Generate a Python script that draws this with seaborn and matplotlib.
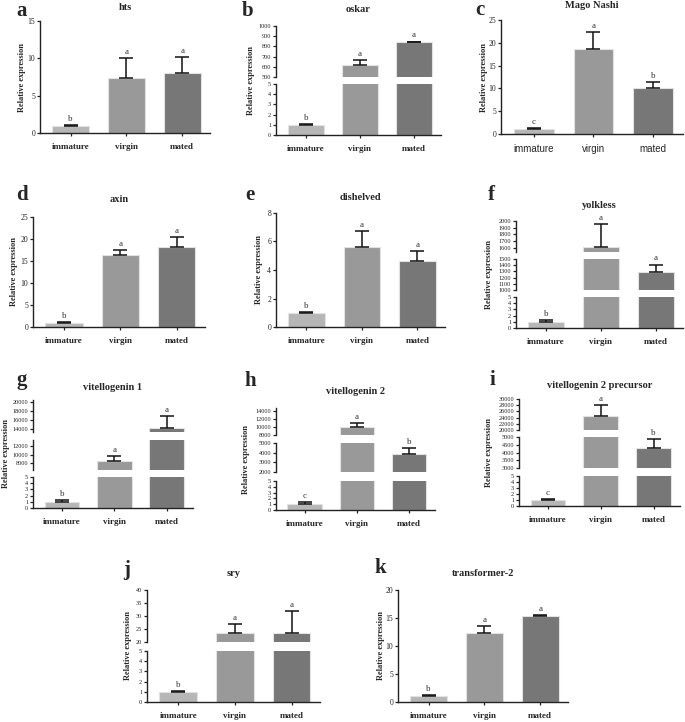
import numpy as np
import pandas as pd
import matplotlib.pyplot as plt
import seaborn as sns

sns.set_style("ticks")
plt.rcParams['font.family'] = ['Liberation Serif', 'DejaVu Serif']

W, H = 685, 722

stages = ["immature", "virgin", "mated"]
stage_colors = ["#b6b6b6", "#999999", "#777777"]

# mean relative expression, upper error, significance letters
hts_mean = [1.0, 7.4, 8.1]
hts_err = [0.12, 2.6, 2.1]
hts_sig = ["b", "a", "a"]

oskar_mean = [1.0, 615, 840]
oskar_err = [0.07, 50, 8]
oskar_sig = ["b", "a", "a"]

mago_mean = [1.0, 18.6, 10.1]
mago_err = [0.3, 3.7, 1.2]
mago_sig = ["c", "a", "b"]

axin_mean = [1.0, 16.4, 18.1]
axin_err = [0.2, 1.1, 2.3]
axin_sig = ["b", "a", "a"]

dsh_mean = [1.0, 5.6, 4.65]
dsh_err = [0.07, 1.15, 0.65]
dsh_sig = ["b", "a", "a"]

yl_mean = [1.0, 1620, 1290]
yl_err = [0.3, 340, 120]
yl_sig = ["b", "a", "a"]

vg1_mean = [1.0, 8600, 14200]
vg1_err = [0.3, 1100, 2600]
vg1_sig = ["b", "a", "a"]

vg2_mean = [1.0, 9900, 3900]
vg2_err = [0.3, 1200, 600]
vg2_sig = ["c", "a", "b"]

vg2p_mean = [1.0, 24600, 4300]
vg2p_err = [0.2, 3400, 550]
vg2p_sig = ["c", "a", "b"]

sry_mean = [1.0, 23.5, 23.3]
sry_err = [0.1, 3.5, 8.7]
sry_sig = ["b", "a", "a"]

tra2_mean = [1.0, 12.3, 15.3]
tra2_err = [0.2, 1.3, 0.3]
tra2_sig = ["b", "a", "a"]

# layout in pixels: segments listed bottom -> top as (y_top, y_bottom, ymin, ymax, ticks)
panels = [
    dict(letter="a", gene="hts", mean=hts_mean, err=hts_err, sig=hts_sig, x=(40, 210),
         segs=[(21, 133, 0, 15, np.arange(0, 16, 5))], title_y=8, letter_xy=(22, 11), ylab_x=22),
    dict(letter="b", gene="oskar", mean=oskar_mean, err=oskar_err, sig=oskar_sig, x=(276, 441),
         segs=[(84, 135, 0, 5, np.arange(0, 6)), (26, 77, 500, 1000, np.arange(500, 1001, 100))],
         title_y=10, letter_xy=(248, 11), ylab_x=251),
    dict(letter="c", gene="Mago Nashi", mean=mago_mean, err=mago_err, sig=mago_sig, x=(501, 683),
         segs=[(20, 134, 0, 25, np.arange(0, 26, 5))], title_y=5, letter_xy=(480, 10), ylab_x=484,
         sans=True),
    dict(letter="d", gene="axin", mean=axin_mean, err=axin_err, sig=axin_sig, x=(33, 205),
         segs=[(217, 327, 0, 25, np.arange(0, 26, 5))], title_y=200, letter_xy=(22, 195), ylab_x=14),
    dict(letter="e", gene="dishelved", mean=dsh_mean, err=dsh_err, sig=dsh_sig, x=(276, 445),
         segs=[(213, 327, 0, 8, np.arange(0, 9, 2))], title_y=197, letter_xy=(250, 195), ylab_x=259),
    dict(letter="f", gene="yolkless", mean=yl_mean, err=yl_err, sig=yl_sig, x=(516, 683),
         segs=[(297, 328, 0, 5, np.arange(0, 6)), (259, 290, 1000, 1500, np.arange(1000, 1501, 100)),
               (221, 252, 1540, 2000, np.arange(1600, 2001, 100))],
         title_y=205, letter_xy=(491, 195), ylab_x=489),
    dict(letter="g", gene="vitellogenin 1", mean=vg1_mean, err=vg1_err, sig=vg1_sig, x=(33, 193),
         segs=[(477, 508, 0, 5, np.arange(0, 6)), (440, 470, 6400, 13400, np.arange(8000, 12001, 2000)),
               (400, 432, 13300, 20400, np.arange(14000, 20001, 2000))],
         title_y=387, letter_xy=(22, 380), ylab_x=6),
    dict(letter="h", gene="vitellogenin 2", mean=vg2_mean, err=vg2_err, sig=vg2_sig, x=(276, 435),
         segs=[(481, 510, 0, 5, np.arange(0, 6)), (443, 472, 2000, 5000, np.arange(2000, 5001, 1000)),
               (408, 435, 8000, 14800, np.arange(8000, 14001, 2000))],
         title_y=392, letter_xy=(250, 381), ylab_x=246),
    dict(letter="i", gene="vitellogenin 2 precursor", mean=vg2p_mean, err=vg2p_err, sig=vg2p_sig,
         x=(519, 680),
         segs=[(476, 506, 0, 5, np.arange(0, 6)), (437, 468, 3000, 5000, np.arange(3000, 5001, 500)),
               (399, 430, 20000, 30000, np.arange(20000, 30001, 2000))],
         title_y=385, letter_xy=(492, 380), ylab_x=489),
    dict(letter="j", gene="sry", mean=sry_mean, err=sry_err, sig=sry_sig, x=(147, 320),
         segs=[(651, 702, 0, 5, np.arange(0, 6)), (590, 642, 20, 40, np.arange(20, 41, 5))],
         title_y=574, letter_xy=(127, 570), ylab_x=128),
    dict(letter="k", gene="transformer-2", mean=tra2_mean, err=tra2_err, sig=tra2_sig, x=(398, 568),
         segs=[(590, 702, 0, 20, np.arange(0, 21, 5))], title_y=574, letter_xy=(380, 568), ylab_x=381),
]

fig = plt.figure(figsize=(W / 100, H / 100), dpi=100)


def draw_panel(p):
    df = pd.DataFrame({"stage": stages, "value": p["mean"]})
    x0, x1 = p["x"]
    tops = [m + e for m, e in zip(p["mean"], p["err"])]
    multi = len(p["segs"]) > 1
    for k, (yt, yb, lo, hi, ticks) in enumerate(p["segs"]):
        ax = fig.add_axes([x0 / W, 1 - yb / H, (x1 - x0) / W, (yb - yt) / H])
        ax.patch.set_alpha(0)
        sns.barplot(data=df, x="stage", y="value", hue="stage", palette=stage_colors,
                    width=0.66, edgecolor="#e2e2e2", linewidth=0.8, errorbar=None,
                    legend=False, ax=ax, zorder=2)
        ax.errorbar(range(3), p["mean"], yerr=[np.zeros(3), p["err"]], fmt="none",
                    ecolor="#111111", elinewidth=1.1, capsize=5, capthick=1.1, zorder=3)
        ax.set_xlim(-0.55, 2.5)
        ax.set_ylim(lo, hi)
        ax.set_yticks(ticks)
        ax.set_yticklabels([str(int(t)) for t in ticks], fontsize=4.5 if multi else 5.5)
        ax.set_xlabel("")
        ax.set_ylabel("")
        ax.spines[["top", "right"]].set_visible(False)
        for s in ["left", "bottom"]:
            ax.spines[s].set_linewidth(1.0)
            ax.spines[s].set_color("#222222")
        ax.tick_params(axis="y", length=2.5, width=0.9, pad=1, colors="#222222")
        if k == 0:
            ax.tick_params(axis="x", length=2.5, width=0.9, pad=5)
            ax.set_xticks(range(3))
            if p.get("sans"):
                ax.set_xticklabels(stages, fontsize=7, family=["Liberation Sans", "DejaVu Sans"])
            else:
                ax.set_xticklabels(stages, fontsize=6.5, fontweight="bold")
        else:
            ax.spines["bottom"].set_visible(False)
            ax.tick_params(axis="x", bottom=False, labelbottom=False)
        for i, (t, s) in enumerate(zip(tops, p["sig"])):
            if lo <= t <= hi:
                ax.annotate(s, (i, t), xytext=(0, 1.5), textcoords="offset points",
                            ha="center", va="bottom", fontsize=6.5, color="#333333")
    ytop = p["segs"][-1][0]
    ybot = p["segs"][0][1]
    fig.text((x0 + x1) / 2 / W, 1 - p["title_y"] / H, p["gene"], ha="center", va="center",
             fontsize=7.5, fontweight="bold")
    lx, ly = p["letter_xy"]
    fig.text(lx / W, 1 - ly / H, p["letter"], ha="center", va="center", fontsize=15,
             fontweight="bold")
    fig.text(p["ylab_x"] / W, 1 - (ytop + ybot) / 2 / H, "Relative expression", rotation=90,
             ha="center", va="center", fontsize=6, fontweight="bold")


for p in panels:
    draw_panel(p)

fig.savefig("out.png", dpi=100, facecolor="white")
